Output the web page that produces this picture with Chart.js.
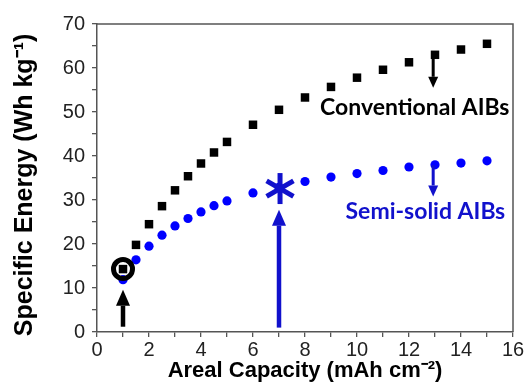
<!DOCTYPE html>
<html>
<head>
<meta charset="utf-8">
<script src="https://cdn.jsdelivr.net/npm/chart.js@4.4.1/dist/chart.umd.min.js"></script>
<style>
  html, body { margin: 0; padding: 0; background: #fff; }
  #wrap { width: 527px; height: 390px; }
</style>
</head>
<body>
<div id="wrap"><canvas id="chart"></canvas></div>
<script>
// Areal capacity (mAh cm-2)
const conventionalX = [1, 1.5, 2, 2.5, 3, 3.5, 4, 4.5, 5, 6, 7, 8, 9, 10, 11, 12, 13, 14, 15];
const conventionalY = [14.3, 19.8, 24.5, 28.6, 32.2, 35.4, 38.3, 40.8, 43.2, 47.1, 50.5, 53.3, 55.7, 57.8, 59.6, 61.3, 63.0, 64.2, 65.5];
const semiSolidX = [1, 1.5, 2, 2.5, 3, 3.5, 4, 4.5, 5, 6, 7, 8, 9, 10, 11, 12, 13, 14, 15];
const semiSolidY = [11.9, 16.4, 19.5, 22.0, 24.1, 25.8, 27.3, 28.7, 29.8, 31.6, 32.9, 34.2, 35.2, 36.0, 36.7, 37.5, 38.0, 38.4, 38.9];

const xTickLabels = [0, 2, 4, 6, 8, 10, 12, 14, 16];
const yTickLabels = [0, 10, 20, 30, 40, 50, 60, 70];

// annotations, in data units
const ringMark = { x: 1, y: 14.3 };
const starMark = { x: 7.04, y: 32.6 };
const arrows = [
  { x: 1, from: 1.2, to: 9.6, color: 'black', big: true },
  { x: 7, from: 1.0, to: 27.8, color: 'blue', big: true },
  { x: 12.93, from: 63.0, to: 55.5, color: 'black', big: false },
  { x: 12.93, from: 37.9, to: 30.8, color: 'blue', big: false }
];
const labelsText = [
  { text: 'Conventional AIBs', x: 12.22, y: 51.1, color: 'black' },
  { text: 'Semi-solid AIBs', x: 12.63, y: 27.4, color: 'blue' }
];

const BLACK = '#000000';
const BLUE = '#0000ff';
const DARK_BLUE = '#1111cc';
const AXIS = '#555555';

const toPoints = (xs, ys) => xs.map((x, i) => ({ x: x, y: ys[i] }));

const annotations = {
  id: 'annotations',
  afterDatasetsDraw(chart) {
    const ctx = chart.ctx;
    const xs = chart.scales.x, ys = chart.scales.y;
    const area = chart.chartArea;
    ctx.save();

    // top and right frame
    ctx.strokeStyle = AXIS;
    ctx.lineWidth = 1.5;
    ctx.beginPath();
    ctx.moveTo(area.left, area.top);
    ctx.lineTo(area.right, area.top);
    ctx.lineTo(area.right, area.bottom);
    ctx.stroke();

    // ring round first point
    ctx.strokeStyle = BLACK;
    ctx.lineWidth = 5;
    ctx.beginPath();
    ctx.arc(xs.getPixelForValue(ringMark.x), ys.getPixelForValue(ringMark.y), 9.5, 0, Math.PI * 2);
    ctx.stroke();

    // asterisk
    const sx = xs.getPixelForValue(starMark.x), sy = ys.getPixelForValue(starMark.y);
    ctx.strokeStyle = DARK_BLUE;
    ctx.lineWidth = 5;
    for (let k = 0; k < 3; k++) {
      const a = Math.PI / 2 + k * Math.PI / 3;
      const dx = Math.cos(a) * 15.5, dy = Math.sin(a) * 15.5;
      ctx.beginPath();
      ctx.moveTo(sx - dx, sy - dy);
      ctx.lineTo(sx + dx, sy + dy);
      ctx.stroke();
    }

    // arrows
    for (const a of arrows) {
      const col = a.color === 'blue' ? DARK_BLUE : BLACK;
      const px = xs.getPixelForValue(a.x);
      const y0 = ys.getPixelForValue(a.from), y1 = ys.getPixelForValue(a.to);
      const dir = Math.sign(y1 - y0);
      const headLen = a.big ? 16 : 11;
      const headW = a.big ? 7 : 5;
      const shaft = a.big ? 4.5 : 3;
      ctx.fillStyle = col;
      ctx.fillRect(px - shaft / 2, Math.min(y0, y1 - dir * headLen), shaft, Math.abs(y1 - dir * headLen - y0));
      ctx.beginPath();
      ctx.moveTo(px, y1);
      ctx.lineTo(px - headW, y1 - dir * headLen);
      ctx.lineTo(px + headW, y1 - dir * headLen);
      ctx.closePath();
      ctx.fill();
    }

    // series labels
    ctx.font = 'bold 23px Lato, "Open Sans", sans-serif';
    ctx.textAlign = 'center';
    ctx.textBaseline = 'middle';
    for (const l of labelsText) {
      ctx.fillStyle = l.color === 'blue' ? DARK_BLUE : BLACK;
      ctx.fillText(l.text, xs.getPixelForValue(l.x), ys.getPixelForValue(l.y));
    }
    ctx.restore();
  }
};

const tickFont = { family: '"Liberation Sans", Arial, sans-serif', size: 20 };
const xTitleFont = { family: '"Liberation Sans", Arial, sans-serif', size: 22, weight: 'bold' };
const yTitleFont = { family: '"Liberation Sans", Arial, sans-serif', size: 25, weight: 'bold' };

new Chart(document.getElementById('chart'), {
  type: 'scatter',
  plugins: [annotations],
  data: {
    datasets: [
      {
        label: 'Conventional AIBs',
        data: toPoints(conventionalX, conventionalY),
        pointStyle: 'rect',
        pointRadius: 6,
        backgroundColor: BLACK,
        borderColor: BLACK,
        borderWidth: 0
      },
      {
        label: 'Semi-solid AIBs',
        data: toPoints(semiSolidX, semiSolidY),
        pointStyle: 'circle',
        pointRadius: 4.6,
        backgroundColor: BLUE,
        borderColor: BLUE,
        borderWidth: 0
      }
    ]
  },
  options: {
    responsive: true,
    maintainAspectRatio: false,
    animation: false,
    layout: { padding: { top: 24, right: 14, left: 0, bottom: 0 } },
    plugins: {
      legend: { display: false },
      tooltip: { enabled: false }
    },
    scales: {
      x: {
        type: 'linear',
        min: 0,
        max: 16,
        afterFit(scale) { scale.height = 58; },
        ticks: {
          stepSize: 1,
          autoSkip: false,
          maxRotation: 0,
          color: '#222',
          font: tickFont,
          padding: 1,
          callback: (v) => xTickLabels.includes(v) ? String(v) : ''
        },
        grid: { drawOnChartArea: false, drawTicks: true, tickLength: 5, color: AXIS, lineWidth: 1.3 },
        border: { display: true, color: AXIS, width: 1.5 },
        title: {
          display: true,
          text: 'Areal Capacity (mAh cm\u207B\u00B2)',
          color: BLACK,
          font: xTitleFont,
          padding: { top: 0, bottom: 6 }
        }
      },
      y: {
        type: 'linear',
        min: 0,
        max: 70,
        afterFit(scale) { scale.width = 97; },
        ticks: {
          stepSize: 5,
          autoSkip: false,
          color: '#222',
          font: tickFont,
          padding: 7,
          callback: (v) => yTickLabels.includes(v) ? String(v) : ''
        },
        grid: { drawOnChartArea: false, drawTicks: true, tickLength: 5, color: AXIS, lineWidth: 1.3 },
        border: { display: true, color: AXIS, width: 1.5 },
        title: {
          display: true,
          text: 'Specific Energy (Wh kg\u207B\u00B9)  ',
          color: BLACK,
          font: yTitleFont,
          padding: { top: 10, bottom: 0 }
        }
      }
    }
  }
});
</script>
</body>
</html>
